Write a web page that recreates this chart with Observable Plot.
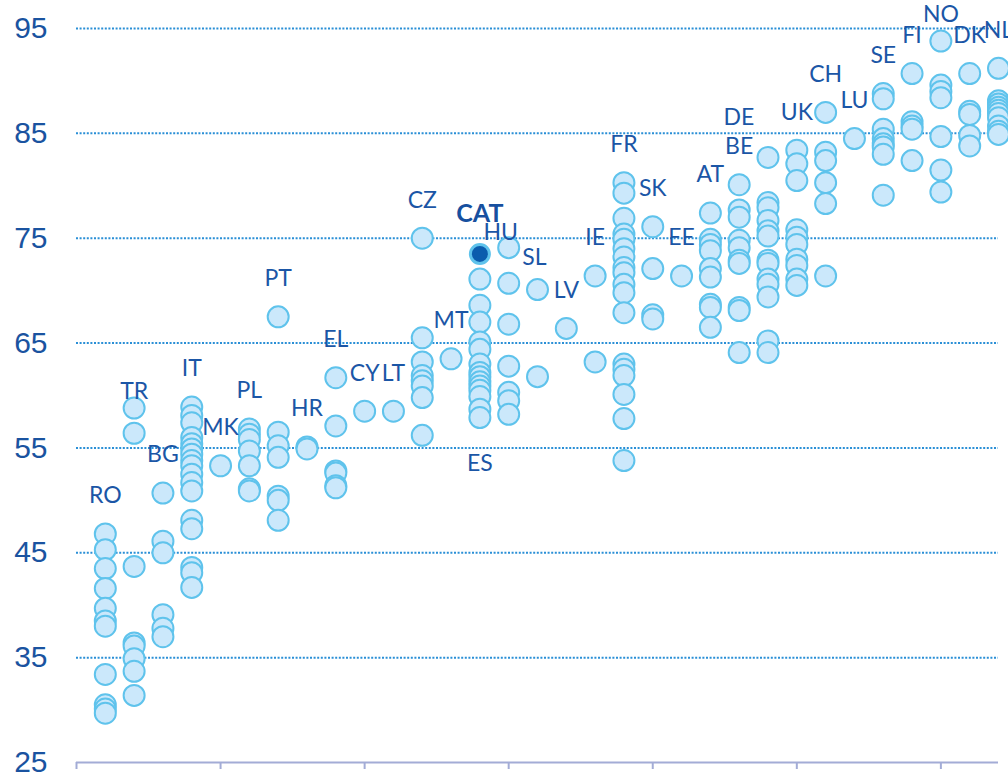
<!DOCTYPE html>
<html><head><meta charset="utf-8">
<script src="https://cdn.jsdelivr.net/npm/d3@7"></script>
<script src="https://cdn.jsdelivr.net/npm/@observablehq/plot@0.6"></script>
<style>html,body{margin:0;padding:0;background:#fff;overflow:hidden}</style>
</head><body><div id="chart"></div>
<script>
const countries = ["RO","TR","BG","IT","MK","PL","PT","HR","EL","CY","LT","CZ","MT","ES","HU","SL","LV","IE","FR","SK","EE","AT","BE","DE","UK","CH","LU","SE","FI","NO","DK","NL"];
const regionValues = [
  [46.8, 45.3, 43.5, 41.6, 39.7, 38.5, 38.0, 33.4, 30.5, 30.1, 29.7],
  [58.8, 56.4, 43.7, 36.4, 36.1, 34.9, 33.7, 31.4],
  [50.7, 46.1, 45.0, 39.1, 37.8, 37.0],
  [58.9, 58.1, 57.4, 56.0, 55.4, 54.9, 54.4, 53.8, 53.3, 52.5, 51.7, 50.9, 48.1, 47.3, 43.6, 43.1, 41.7],
  [53.3],
  [56.8, 56.3, 55.8, 54.7, 53.3, 51.1, 50.9],
  [67.5, 56.5, 55.2, 54.1, 50.4, 50.0, 48.1],
  [55.1, 54.9],
  [61.7, 57.1, 52.8, 52.6, 51.4, 51.2],
  [58.5],
  [58.5],
  [75.0, 65.5, 63.2, 61.9, 61.4, 60.9, 59.8, 56.2],
  [63.5],
  [71.1, 68.6, 67.0, 65.1, 64.4, 63.0, 62.2, 61.8, 61.3, 60.9, 60.5, 59.9, 58.7, 57.9],
  [74.1, 70.7, 66.8, 62.8, 60.3, 59.5, 58.2],
  [70.1, 61.8],
  [66.4],
  [71.4, 63.2],
  [80.3, 79.3, 76.9, 75.4, 74.9, 74.0, 73.2, 72.2, 71.7, 70.6, 69.8, 67.9, 63.0, 62.5, 61.9, 60.1, 57.8, 53.8],
  [76.1, 72.1, 67.7, 67.3],
  [71.4],
  [77.4, 74.9, 74.4, 73.8, 72.1, 71.3, 68.7, 68.4, 66.5],
  [80.1, 77.7, 77.0, 74.8, 74.1, 72.9, 72.6, 68.4, 68.1, 64.1],
  [82.7, 78.4, 77.9, 76.7, 75.7, 75.2, 72.9, 72.6, 71.1, 70.6, 69.4, 65.2, 64.1],
  [83.4, 82.1, 80.5, 75.8, 75.1, 74.4, 73.0, 72.4, 71.1, 70.5],
  [87.0, 83.2, 82.4, 80.3, 78.3, 71.4],
  [84.5],
  [88.8, 88.3, 85.4, 84.5, 84.0, 83.7, 83.0, 79.1],
  [90.7, 86.1, 85.7, 85.4, 82.4],
  [93.8, 89.6, 89.0, 88.4, 84.7, 81.5, 79.4],
  [90.7, 87.1, 86.8, 84.8, 83.8],
  [91.2, 88.1, 87.8, 87.5, 87.2, 86.9, 86.5, 85.7, 85.2, 84.9]
];
const catLabel = "CAT";
const catCountry = "ES";
const catValue = 73.5;
const yTicks = [25, 35, 45, 55, 65, 75, 85, 95];
const xTicks = [0, 5, 10, 15, 20, 25, 30];

const points = countries.flatMap((c, i) => regionValues[i].map(v => ({country: c, pos: i + 1, value: v})));
const groups = countries.map((c, i) => ({country: c, pos: i + 1, top: d3.max(regionValues[i]), bottom: d3.min(regionValues[i])}));
const cat = [{label: catLabel, pos: countries.indexOf(catCountry) + 1, value: catValue}];

const labelColor = "#1b56a6";
const labelStyle = {fontSize: 23, fontFamily: "Lato", fill: labelColor};
const shifts = {TR: [0, -16], HU: [-8, -15], NO: [0, -26], DE: [-29, -40], SL: [-3, -32]};

const labelMarks = [
  Plot.text(groups.filter(d => !shifts[d.country] && d.country !== catCountry),
    {x: "pos", y: "top", text: "country", dy: -38, ...labelStyle}),
  ...Object.entries(shifts).map(([k, [dx, dy]]) =>
    Plot.text(groups.filter(d => d.country === k), {x: "pos", y: "top", text: "country", dx, dy, ...labelStyle})),
  Plot.text(groups.filter(d => d.country === catCountry), {x: "pos", y: "bottom", text: "country", dy: 46, ...labelStyle}),
  Plot.text(cat, {x: "pos", y: "value", text: "label", dy: -40, fontSize: 25, fontWeight: "bold", fontFamily: "Lato", fill: "#17509f"})
];

const chart = Plot.plot({
  width: 1008,
  height: 778,
  marginTop: 28,
  marginBottom: 16,
  marginLeft: 76,
  marginRight: 10,
  style: {fontFamily: "Liberation Sans", background: "#fff"},
  x: {domain: [0, 32], label: null},
  y: {domain: [25, 95], label: null},
  marks: [
    Plot.ruleY(yTicks.filter(t => t > 25), {stroke: "#2a8fd6", strokeWidth: 2, strokeDasharray: "2,1.6"}),
    Plot.ruleY([25], {stroke: "#a3acd6", strokeWidth: 2}),
    Plot.axisX({ticks: xTicks, tickSize: 7, tickFormat: () => "", label: null, stroke: "#a3acd6", strokeWidth: 2}),
    Plot.axisY({ticks: yTicks, tickSize: 0, tickPadding: 29, fontSize: 30, label: null, color: "#1a53a0"}),
    Plot.dot(points, {x: "pos", y: "value", r: 10.5, fill: "#cbe8fb", stroke: "#5fc3ec", strokeWidth: 2}),
    Plot.dot(cat, {x: "pos", y: "value", r: 9.5, fill: "#0b5cad", stroke: "#5fc3ec", strokeWidth: 3}),
    ...labelMarks
  ]
});
document.getElementById("chart").appendChild(chart);
</script>
</body></html>
